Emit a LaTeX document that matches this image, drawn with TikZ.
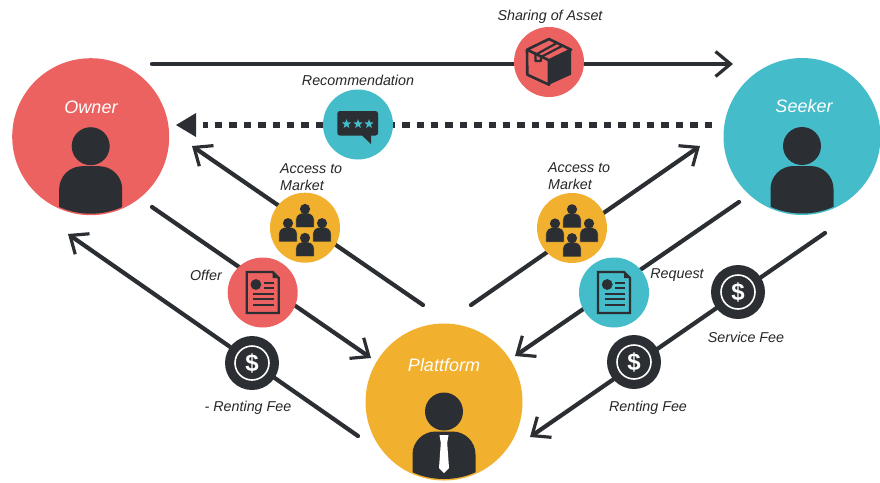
\documentclass[tikz,border=0pt]{standalone}
\usepackage{fontspec}
\setmainfont{Liberation Sans}
\usetikzlibrary{arrows.meta}
\definecolor{cred}{HTML}{EC6261}
\definecolor{cteal}{HTML}{45BCC9}
\definecolor{cyel}{HTML}{F2B02F}
\definecolor{cdark}{HTML}{2B2F33}
\tikzset{
  disc/.style={circle,draw=none,inner sep=0pt,outer sep=0pt},
  big/.style={disc,minimum size=157pt},
  icon/.style={disc,minimum size=70pt},
  fee/.style={disc,fill=cdark,minimum size=54pt},
  flow/.style={draw=cdark,line width=4.2pt,line cap=round,-{Straight Barb[length=15pt,width=25pt,line width=3.2pt]}},
  dotflow/.style={draw=cdark,line width=5.2pt,dash pattern=on 7.5pt off 6.9pt},
  tipfill/.style={fill=cdark,draw=none},
  lab/.style={font=\itshape\fontsize{14.3}{17.5}\selectfont,text=black!85,inner sep=0pt,align=left},
  whitelab/.style={font=\itshape\fontsize{18}{20}\selectfont,text=white,inner sep=0pt},
  dollar/.style={font=\bfseries\fontsize{24}{24}\selectfont,text=white,inner sep=0pt},
}
\newcommand{\bigperson}[2]{%
  \begin{scope}[shift={(#1.center)}]
    \begin{scope}
      \clip (0,0) circle[radius=77pt];
      \fill[cdark] (0,9.5) circle[radius=19pt];
      \fill[cdark,rounded corners=23pt] (-31.5,100) -- (-31.5,29.5) -- (31.5,29.5) -- (31.5,100) -- cycle;
      #2
    \end{scope}
  \end{scope}}
\newcommand{\smallp}[2]{%
  \path[fill=cdark,draw=cyel,line width=.5pt] (#1-9.2,#2+18.6)
    -- (#1-9.2,#2+11) .. controls (#1-9.2,#2+6) and (#1-6,#2+3.8) .. (#1,#2+3.8)
    .. controls (#1+6,#2+3.8) and (#1+9.2,#2+6) .. (#1+9.2,#2+11)
    -- (#1+9.2,#2+18.6) -- cycle;
  \fill[cdark] (#1,#2) circle[radius=5.1pt];}
\newcommand{\groupicon}[1]{%
  \begin{scope}[shift={(#1.center)}]
    \smallp{0}{-18.7}
    \smallp{-17}{-4.5}
    \smallp{17}{-4.5}
    \smallp{0}{10.2}
  \end{scope}}
\newcommand{\docicon}[2]{%
  \begin{scope}[shift={(#1.center)}]
    \path[draw=cdark,line width=2.4pt,fill=#2,line join=miter] (-16,-20.5) -- (10,-20.5) -- (16,-14.5) -- (16,20.5) -- (-16,20.5) -- cycle;
    \fill[cdark] (10,-20.5) -- (16,-14.5) -- (10,-14.5) -- cycle;
    \fill[cdark] (-6.8,-8) circle[radius=5.4pt];
    \draw[cdark,line width=2pt] (1,-9.7) -- (11,-9.7) (1,-4.7) -- (11,-4.7)
      (-9.5,1) -- (11,1) (-9.5,6.3) -- (11,6.3) (-9.5,12) -- (11,12);
  \end{scope}}
\newcommand{\feeicon}[1]{%
  \draw[white,line width=1.6pt] (#1.center) circle[radius=17pt];
  \node[dollar] (#1d) at (#1.center) {\$};}
\newcommand{\ministar}[2]{%
  \fill[cteal] (#1,#2) +(-90:4.8) -- +(-54:2) -- +(-18:4.8) -- +(18:2) -- +(54:4.8) -- +(90:2) -- +(126:4.8) -- +(162:2) -- +(198:4.8) -- +(234:2) -- cycle;}
\begin{document}
\begin{tikzpicture}[x=1pt,y=-1pt]
\useasboundingbox (0,0) rectangle (880,482);
% connector ends
\coordinate (sa) at (152,64);   \coordinate (sb) at (733,64);
\coordinate (ra) at (712,125);  \coordinate (rb) at (203,125);
\coordinate (rt) at (176,125);  \coordinate (rtu) at (196,113); \coordinate (rtd) at (196,137);
\coordinate (ala) at (423,305); \coordinate (alb) at (192,146);
\coordinate (ofa) at (152,207); \coordinate (ofb) at (371,358);
\coordinate (rna) at (358,436); \coordinate (rnb) at (68,234);
\coordinate (ara) at (471,305); \coordinate (arb) at (700,146);
\coordinate (rqa) at (739,202); \coordinate (rqb) at (515,356);
\coordinate (sfa) at (825,233); \coordinate (sfb) at (530,437);
% connectors
\draw[flow] (sa) -- (sb);
\draw[dotflow] (ra) -- (rb);
\fill[tipfill] (rt) -- (rtu) -- (rtd) -- cycle;
\draw[flow] (ala) -- (alb);
\draw[flow] (ofa) -- (ofb);
\draw[flow] (rna) -- (rnb);
\draw[flow] (ara) -- (arb);
\draw[flow] (rqa) -- (rqb);
\draw[flow] (sfa) -- (sfb);
% main actors
\node[big,fill=cred] (owner) at (90.7,136.7) {};
\node[big,fill=cteal] (seeker) at (802,136.5) {};
\node[big,fill=cyel] (platform) at (444,402) {};
\bigperson{owner}{}
\bigperson{seeker}{}
\bigperson{platform}{\fill[white] (-4.5,33) -- (4.5,33) -- (3.2,41) -- (5,66) -- (0,71) -- (-5,66) -- (-3.2,41) -- cycle;}
% box
\node[icon,fill=cred] (asset) at (549,62) {};
\begin{scope}[shift={(asset.center)}]
  \fill[cdark] (0,-1.7) -- (22,-12.3) -- (22,12.7) -- (0,22.7) -- cycle;
  \draw[cdark,line width=2.6pt,line join=round] (0,-1.7) -- (-22,-12.3) -- (0,-23) -- (22,-12.3) -- (0,-1.7) -- (0,22.7) -- (-21.7,12.7) -- (-22,-12.3);
  \draw[cdark,line width=2.2pt,line join=round] (-13.5,-7.2) -- (-13.5,-1) -- (-8,-1) -- (-8,-5) -- (13,-16) (-13.5,-7.2) -- (7,-18.5);
\end{scope}
% chat
\node[icon,fill=cteal] (reco) at (358,124.5) {};
\begin{scope}[shift={(reco.center)}]
  \fill[cdark,rounded corners=2.5pt] (-20.7,-13.5) -- (20,-13.5) -- (20,11) -- (-20.7,11) -- cycle;
  \fill[cdark] (3,10) -- (13,19.5) -- (13,10) -- cycle;
  \ministar{-11.5}{-0.5}
  \ministar{0}{-0.5}
  \ministar{11}{-0.5}
\end{scope}
% access
\node[icon,fill=cyel] (accl) at (305,227.7) {};
\node[icon,fill=cyel] (accr) at (572,228) {};
\groupicon{accl}
\groupicon{accr}
% docs
\node[icon,fill=cred] (offer) at (262.7,292.5) {};
\node[icon,fill=cteal] (req) at (614,292.5) {};
\docicon{offer}{cred}
\docicon{req}{cteal}
% fees
\node[fee] (feel) at (252,363) {};
\node[fee] (feer) at (634,362) {};
\node[fee] (fees) at (738,292) {};
\feeicon{feel}
\feeicon{feer}
\feeicon{fees}
% labels
\node[whitelab] (lowner) at (91,107) {Owner};
\node[whitelab] (lseeker) at (804,106) {Seeker};
\node[whitelab] (lplat) at (444,365) {Plattform};
\node[lab] (lshare) at (550,17) {Sharing of Asset};
\node[lab] (lreco) at (358,80) {Recommendation};
\node[lab,anchor=north west] (lal) at (280,163) {Access to\\Market};
\node[lab,anchor=north west] (lar) at (548,162) {Access to\\Market};
\node[lab] (loffer) at (206,275.5) {Offer};
\node[lab] (lreq) at (677,275) {Request};
\node[lab] (lsvc) at (746,337.5) {Service Fee};
\node[lab] (lrent) at (648,407.5) {Renting Fee};
\node[lab] (lneg) at (248,407.5) {- Renting Fee};
\end{tikzpicture}
\end{document}
